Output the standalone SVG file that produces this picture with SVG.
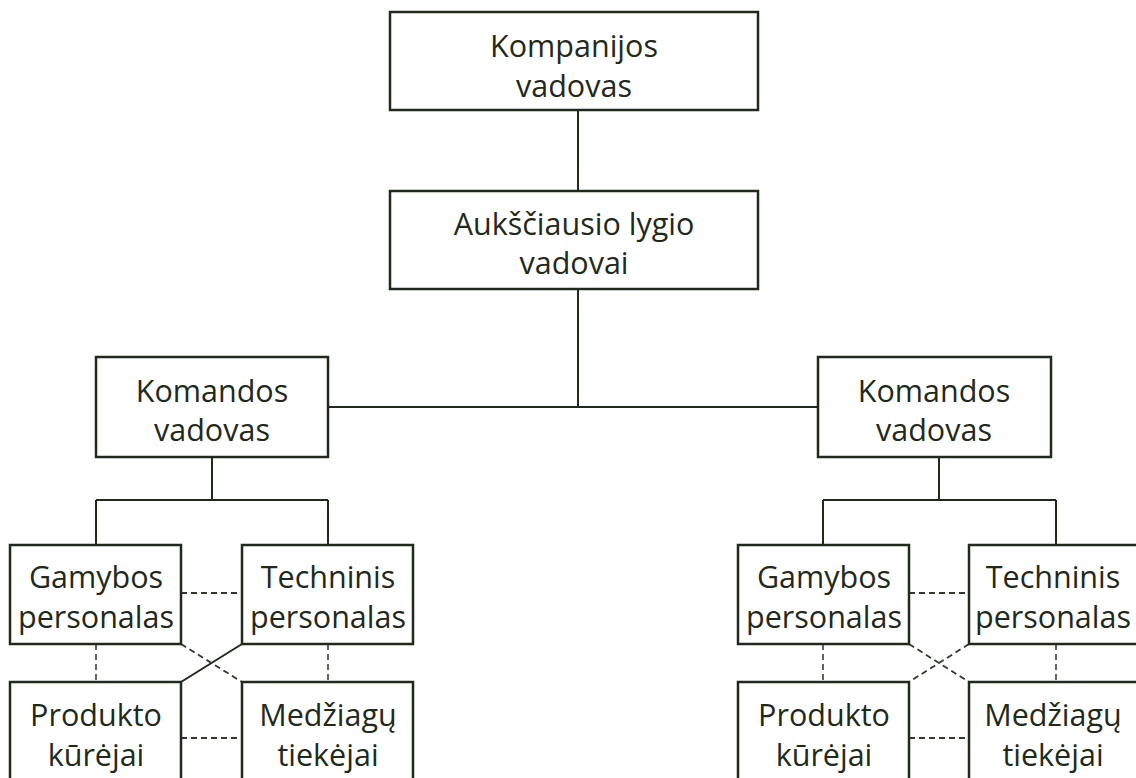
<svg xmlns="http://www.w3.org/2000/svg" width="1136" height="778" viewBox="0 0 1136 778">
  <style>
    .box { fill: #ffffff; stroke: #1f2a1b; stroke-width: 2.5; }
    .lbl { font-family: "Open Sans", "Noto Sans", sans-serif; font-size: 30.5px; fill: #1f2a1b; text-anchor: middle; }
    .solid { fill: none; stroke: #1f2a1b; stroke-width: 2; }
    .dash { fill: none; stroke: #2e3a2b; stroke-width: 1.8; stroke-dasharray: 6 4; }
    .vdash { fill: none; stroke: #4a5a47; stroke-width: 1.8; stroke-dasharray: 6 4; }
  </style>
  <rect width="1136" height="778" fill="#ffffff"/>

  <!-- connectors -->
  <g id="connectors">
    <path class="solid" d="M578 110 V191 M578 289 V407 M328 407 H818"/>
    <!-- left team -->
    <path class="solid" d="M212 457 V500 M96 500 H328 M96 500 V545 M328 500 V545"/>
    <path class="dash" d="M181 593 H242 M181 738 H242"/>
    <path class="vdash" d="M96 644 V682 M328 644 V682"/>
    <path class="solid" d="M242 644 L181 682"/>
    <path class="dash" d="M181 644 L242 682"/>
    <!-- right team -->
    <path class="solid" d="M939 457 V500 M823 500 H1056 M823 500 V545 M1056 500 V545"/>
    <path class="dash" d="M909 593 H969 M909 738 H969"/>
    <path class="vdash" d="M823 644 V682 M1056 644 V682"/>
    <path class="dash" d="M969 644 L909 682 M909 644 L969 682"/>
  </g>

  <g id="ceo">
    <rect class="box" x="390" y="12" width="368" height="98"/>
    <text class="lbl" x="574" y="57">Kompanijos</text>
    <text class="lbl" x="574" y="97">vadovas</text>
  </g>
  <g id="top-managers">
    <rect class="box" x="390" y="191" width="368" height="98"/>
    <text class="lbl" x="574" y="235">Aukščiausio lygio</text>
    <text class="lbl" x="574" y="274">vadovai</text>
  </g>

  <g id="team-lead-left">
    <rect class="box" x="96" y="357" width="232" height="100"/>
    <text class="lbl" x="212" y="402">Komandos</text>
    <text class="lbl" x="212" y="441">vadovas</text>
  </g>
  <g id="team-lead-right">
    <rect class="box" x="818" y="357" width="233" height="100"/>
    <text class="lbl" x="934" y="402">Komandos</text>
    <text class="lbl" x="934" y="441">vadovas</text>
  </g>

  <g id="production-left">
    <rect class="box" x="10" y="545" width="171" height="99"/>
    <text class="lbl" x="96" y="588">Gamybos</text>
    <text class="lbl" x="96" y="628">personalas</text>
  </g>
  <g id="technical-left">
    <rect class="box" x="242" y="545" width="171" height="99"/>
    <text class="lbl" x="328" y="588">Techninis</text>
    <text class="lbl" x="328" y="628">personalas</text>
  </g>
  <g id="developers-left">
    <rect class="box" x="10" y="682" width="171" height="110"/>
    <text class="lbl" x="96" y="726">Produkto</text>
    <text class="lbl" x="96" y="766">kūrėjai</text>
  </g>
  <g id="suppliers-left">
    <rect class="box" x="242" y="682" width="171" height="110"/>
    <text class="lbl" x="328" y="726">Medžiagų</text>
    <text class="lbl" x="328" y="766">tiekėjai</text>
  </g>

  <g id="production-right">
    <rect class="box" x="738" y="545" width="171" height="99"/>
    <text class="lbl" x="824" y="588">Gamybos</text>
    <text class="lbl" x="824" y="628">personalas</text>
  </g>
  <g id="technical-right">
    <rect class="box" x="969" y="545" width="171" height="99"/>
    <text class="lbl" x="1053" y="588">Techninis</text>
    <text class="lbl" x="1053" y="628">personalas</text>
  </g>
  <g id="developers-right">
    <rect class="box" x="738" y="682" width="171" height="110"/>
    <text class="lbl" x="824" y="726">Produkto</text>
    <text class="lbl" x="824" y="766">kūrėjai</text>
  </g>
  <g id="suppliers-right">
    <rect class="box" x="969" y="682" width="171" height="110"/>
    <text class="lbl" x="1053" y="726">Medžiagų</text>
    <text class="lbl" x="1053" y="766">tiekėjai</text>
  </g>
</svg>
